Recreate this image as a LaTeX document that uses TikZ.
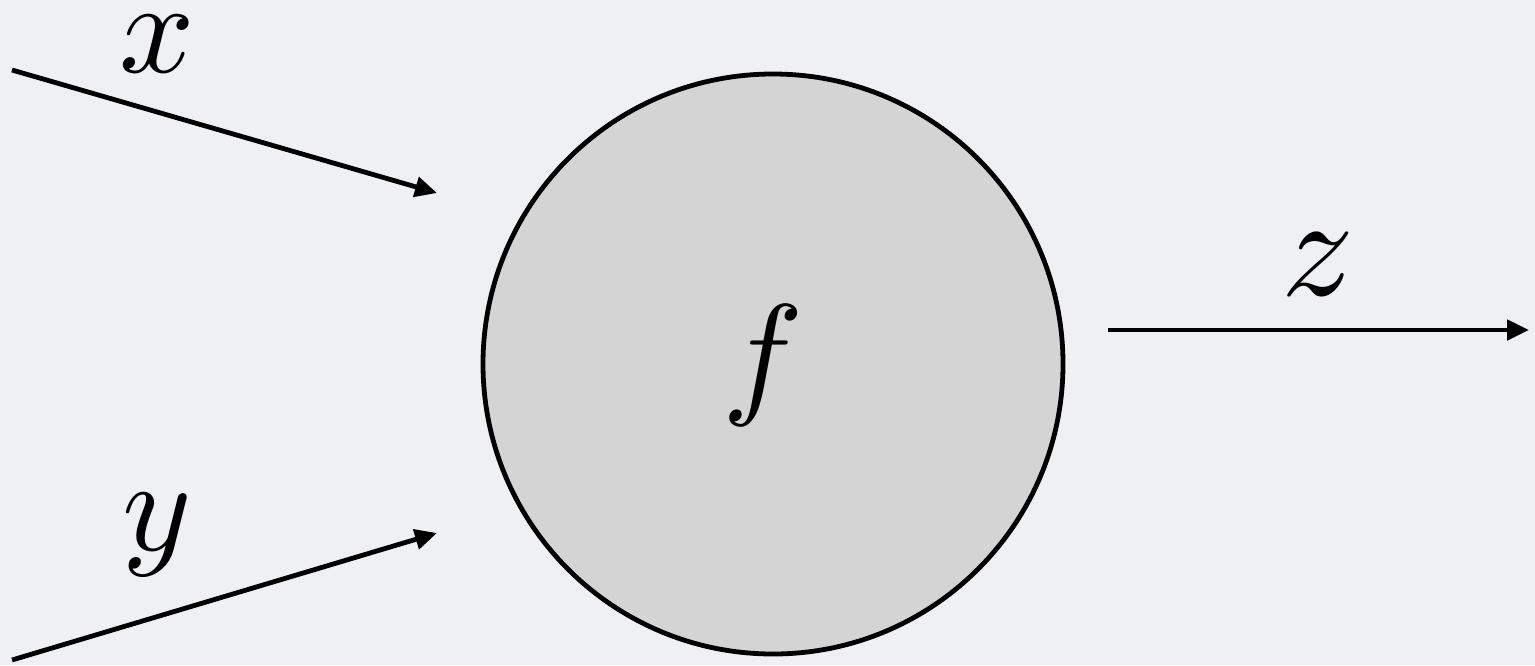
\documentclass[tikz,border=0pt]{standalone}
\usetikzlibrary{arrows.meta}
\definecolor{bg}{HTML}{EFF0F2}
\definecolor{circfill}{HTML}{D4D4D4}
\newcommand{\biglbl}[2][6.6]{\scalebox{#1}{$#2$}}
\begin{document}
\begin{tikzpicture}[x=0.5pt,y=-0.5pt,
  conn/.style={line width=2.4pt,-{Triangle[length=11pt,width=10pt]}},
  lbl/.style={inner sep=0pt}]
\fill[bg] (0,0) rectangle (1535,665);
\useasboundingbox (0,0) rectangle (1535,665);
\node[circle,draw,line width=2.4pt,fill=circfill,minimum size=290pt,inner sep=0pt] (f) at (773,364) {};
\node[lbl] (fl) at (763,365) {\biglbl[6.8]{f}};
\coordinate (xs) at (12,70);
\coordinate (xe) at (437,193);
\coordinate (ys) at (12,660);
\coordinate (ye) at (437,533);
\coordinate (zs) at (1108,330);
\coordinate (ze) at (1529,330);
\draw[conn] (xs) -- (xe);
\draw[conn] (ys) -- (ye);
\draw[conn] (zs) -- (ze);
\node[lbl] (xl) at (157,44) {\biglbl{x}};
\node[lbl] (yl) at (157,535) {\biglbl{y}};
\node[lbl] (zl) at (1318,264) {\biglbl[7.2]{z}};
\end{tikzpicture}
\end{document}
